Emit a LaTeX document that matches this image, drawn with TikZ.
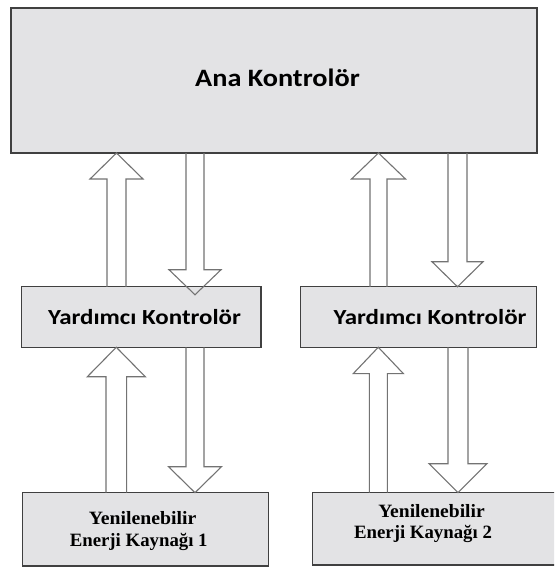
\documentclass[tikz,border=0pt]{standalone}
\usepackage{fontspec}
\usepackage{graphicx}
\usetikzlibrary{calc}
\newfontfamily\carlito{Carlito}
\newfontfamily\lserif{Liberation Serif}
\definecolor{boxfill}{RGB}{227,227,229}
\definecolor{boxborder}{RGB}{64,64,64}
\definecolor{arrowgray}{RGB}{115,115,115}
\tikzset{
  box/.style={draw=boxborder, line width=1.3pt, fill=boxfill, inner sep=0pt, outer sep=0pt},
  sanslabel/.style={font=\carlito\bfseries, text=black, inner sep=0pt, anchor=base},
  seriflabel/.style={font=\lserif\bfseries\fontsize{18.8}{21}\selectfont, text=black, inner sep=0pt, anchor=base},
  arrowline/.style={draw=arrowgray, line width=1.1pt, line join=miter}
}
% block arrow: #1 tail, #2 tip, #3 half shaft width, #4 half head width, #5 head length
\newcommand{\blockarrow}[5]{%
  \path ($(#2)!#5!(#1)$) coordinate (hb);
  \draw[arrowline] ($(#1)!#3!90:(#2)$) -- ($(hb)!#3!-90:(#1)$) -- ($(hb)!#4!-90:(#1)$) -- (#2)
     -- ($(hb)!#4!90:(#1)$) -- ($(hb)!#3!90:(#1)$) -- ($(#1)!#3!-90:(#2)$);
}
\begin{document}
\begin{tikzpicture}[x=1pt,y=-1pt]
\useasboundingbox (0,0) rectangle (554,567);
\clip (0,0) rectangle (554,567);
\fill[white] (0,0) rectangle (554,567);

% boxes
\node[box, minimum width=526pt, minimum height=145pt] (ana) at (274,80.5) {};
\node[box, minimum width=239.3pt, minimum height=60.5pt] (yard1) at (141.35,317) {};
\node[box, minimum width=236pt, minimum height=60.5pt] (yard2) at (418.7,317) {};
\node[box, minimum width=245.6pt, minimum height=73.3pt] (yen1) at (145.5,529.35) {};
\node[box, minimum width=245.7pt, minimum height=72.3pt] (yen2) at (435.15,528.85) {};

% texts
\node[sanslabel, font=\carlito\bfseries\fontsize{25}{28}\selectfont] (tana) at (277.5,86.7) {\scalebox{1.13}[1]{Ana Kontrolör}};
\node[sanslabel, font=\carlito\bfseries\fontsize{21.5}{25}\selectfont] (tyard1) at (144.5,324.3) {\scalebox{1.16}[1]{Yardımcı Kontrolör}};
\node[sanslabel, font=\carlito\bfseries\fontsize{21.5}{25}\selectfont] (tyard2) at (430,324.3) {\scalebox{1.16}[1]{Yardımcı Kontrolör}};
\node[seriflabel] (tyen1a) at (142.5,524.3) {\scalebox{1.05}[1]{Yenilenebilir}};
\node[seriflabel] (tyen1b) at (138.7,546) {Enerji Kaynağı 1};
\node[seriflabel] (tyen2a) at (431.5,517) {\scalebox{1.04}[1]{Yenilenebilir}};
\node[seriflabel] (tyen2b) at (423,538.7) {Enerji Kaynağı 2};

% arrow end points
\coordinate (ul1tail) at (116.5,0 |- yard1.north);
\coordinate (ul1tip)  at (116.5,0 |- ana.south);
\coordinate (dl1tail) at (195,0 |- ana.south);
\coordinate (dl1tip)  at ($(195,0 |- yard1.north)+(0,8)$);
\coordinate (ur1tail) at (378.5,0 |- yard2.north);
\coordinate (ur1tip)  at (378.5,0 |- ana.south);
\coordinate (dr1tail) at (457.5,0 |- ana.south);
\coordinate (dr1tip)  at (457.5,0 |- yard2.north);
\coordinate (ul2tail) at (116.3,0 |- yen1.north);
\coordinate (ul2tip)  at (116.3,0 |- yard1.south);
\coordinate (dl2tail) at (195,0 |- yard1.south);
\coordinate (dl2tip)  at (195,0 |- yen1.north);
\coordinate (ur2tail) at (378.3,0 |- yen2.north);
\coordinate (ur2tip)  at (378.3,0 |- yard2.south);
\coordinate (dr2tail) at (458,0 |- yard2.south);
\coordinate (dr2tip)  at (458,0 |- yen2.north);

% arrows
\blockarrow{ul1tail}{ul1tip}{9.5pt}{26.5pt}{26pt}
\blockarrow{dl1tail}{dl1tip}{9pt}{26pt}{25pt}
\blockarrow{ur1tail}{ur1tip}{8.5pt}{27pt}{26pt}
\blockarrow{dr1tail}{dr1tip}{9.5pt}{25.5pt}{25pt}
\blockarrow{ul2tail}{ul2tip}{10.3pt}{29pt}{29.5pt}
\blockarrow{dl2tail}{dl2tip}{9pt}{26.5pt}{26pt}
\blockarrow{ur2tail}{ur2tip}{9pt}{25pt}{26.3pt}
\blockarrow{dr2tail}{dr2tip}{10pt}{29pt}{29pt}
\end{tikzpicture}
\end{document}
